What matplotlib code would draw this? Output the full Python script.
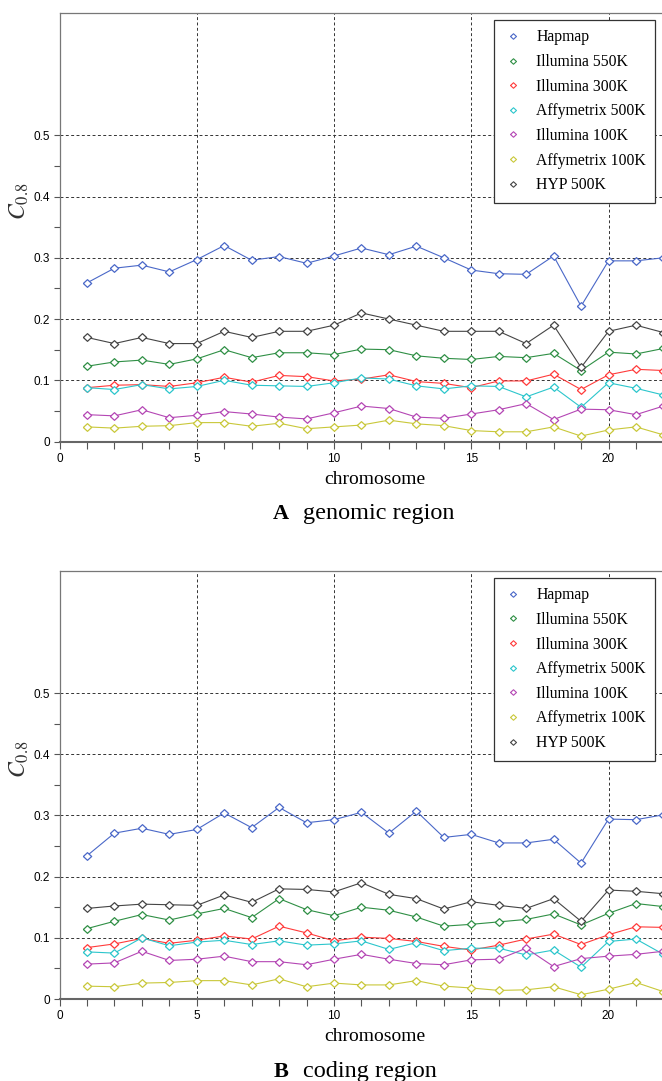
import numpy as np
import matplotlib
matplotlib.use("Agg")
import matplotlib.pyplot as plt
from matplotlib.lines import Line2D
from matplotlib.ticker import MultipleLocator

plt.rcParams['mathtext.fontset'] = 'stix'

chromosomes = list(range(1, 23))
series_names = ["Hapmap", "Illumina 550K", "Illumina 300K", "Affymetrix 500K",
                "Illumina 100K", "Affymetrix 100K", "HYP 500K"]
colors = ["#4a68c8", "#2f8f45", "#ff3b3b", "#2cc6cc", "#b446b4", "#c9c83a", "#454545"]

# panel A: genomic region
genomic_hapmap = [0.259, 0.283, 0.288, 0.277, 0.297, 0.320, 0.296, 0.302, 0.291, 0.303, 0.316,
                  0.305, 0.319, 0.300, 0.280, 0.274, 0.273, 0.303, 0.221, 0.295, 0.295, 0.300]
genomic_ill550 = [0.123, 0.130, 0.133, 0.126, 0.135, 0.150, 0.137, 0.145, 0.145, 0.142, 0.151,
                  0.150, 0.140, 0.136, 0.134, 0.139, 0.137, 0.144, 0.116, 0.146, 0.143, 0.152]
genomic_ill300 = [0.088, 0.092, 0.093, 0.090, 0.096, 0.105, 0.097, 0.108, 0.106, 0.099, 0.102,
                  0.109, 0.098, 0.095, 0.088, 0.099, 0.099, 0.110, 0.085, 0.109, 0.118, 0.116]
genomic_aff500 = [0.088, 0.085, 0.093, 0.086, 0.090, 0.100, 0.092, 0.091, 0.090, 0.096, 0.104,
                  0.102, 0.091, 0.086, 0.091, 0.090, 0.073, 0.089, 0.056, 0.096, 0.087, 0.076]
genomic_ill100 = [0.044, 0.042, 0.052, 0.039, 0.043, 0.049, 0.045, 0.040, 0.037, 0.047, 0.058,
                  0.054, 0.040, 0.038, 0.045, 0.052, 0.062, 0.036, 0.053, 0.052, 0.044, 0.058]
genomic_aff100 = [0.024, 0.022, 0.025, 0.026, 0.031, 0.031, 0.025, 0.030, 0.021, 0.024, 0.027,
                  0.035, 0.029, 0.026, 0.018, 0.016, 0.016, 0.024, 0.009, 0.019, 0.024, 0.011]
genomic_hyp500 = [0.170, 0.160, 0.170, 0.160, 0.160, 0.180, 0.170, 0.180, 0.180, 0.190, 0.210,
                  0.200, 0.190, 0.180, 0.180, 0.180, 0.160, 0.190, 0.121, 0.180, 0.190, 0.178]

# panel B: coding region
coding_hapmap = [0.234, 0.271, 0.279, 0.269, 0.277, 0.304, 0.280, 0.313, 0.288, 0.293, 0.305,
                 0.271, 0.307, 0.264, 0.269, 0.255, 0.255, 0.261, 0.222, 0.294, 0.293, 0.301]
coding_ill550 = [0.115, 0.127, 0.138, 0.129, 0.139, 0.148, 0.133, 0.164, 0.146, 0.136, 0.150,
                 0.145, 0.134, 0.119, 0.122, 0.126, 0.130, 0.139, 0.121, 0.140, 0.156, 0.151]
coding_ill300 = [0.084, 0.090, 0.099, 0.091, 0.096, 0.103, 0.098, 0.119, 0.108, 0.095, 0.101,
                 0.099, 0.094, 0.086, 0.080, 0.088, 0.098, 0.106, 0.089, 0.105, 0.118, 0.117]
coding_aff500 = [0.077, 0.075, 0.100, 0.087, 0.093, 0.096, 0.089, 0.095, 0.088, 0.090, 0.095,
                 0.081, 0.092, 0.079, 0.083, 0.083, 0.072, 0.080, 0.052, 0.094, 0.098, 0.073]
coding_ill100 = [0.057, 0.059, 0.078, 0.063, 0.065, 0.070, 0.061, 0.061, 0.056, 0.065, 0.073,
                 0.065, 0.058, 0.056, 0.064, 0.065, 0.083, 0.053, 0.066, 0.070, 0.073, 0.078]
coding_aff100 = [0.021, 0.020, 0.026, 0.027, 0.030, 0.030, 0.023, 0.033, 0.020, 0.026, 0.023,
                 0.023, 0.030, 0.021, 0.018, 0.014, 0.015, 0.020, 0.007, 0.016, 0.027, 0.012]
coding_hyp500 = [0.148, 0.152, 0.155, 0.154, 0.153, 0.170, 0.158, 0.180, 0.179, 0.175, 0.190,
                 0.171, 0.164, 0.147, 0.159, 0.153, 0.148, 0.164, 0.127, 0.178, 0.176, 0.172]

genomic = [genomic_hapmap, genomic_ill550, genomic_ill300, genomic_aff500,
           genomic_ill100, genomic_aff100, genomic_hyp500]
coding = [coding_hapmap, coding_ill550, coding_ill300, coding_aff500,
          coding_ill100, coding_aff100, coding_hyp500]

diamond = [(-1, 0), (0, 0.92), (1, 0), (0, -0.92), (-1, 0)]
serif = "Liberation Serif"
sans = "Liberation Sans"

fig = plt.figure(figsize=(6.62, 10.81), dpi=100)
W, H = 662.0, 1081.0


def draw_panel(rect, data, letter, title, title_y):
    ax = fig.add_axes(rect)
    for vals, name, c in zip(data, series_names, colors):
        ax.plot(chromosomes, vals, color=c, lw=0.8, marker=diamond, ms=6,
                mfc="white", mec=c, mew=0.9, label=name)
    ax.set_xlim(0, 23)
    ax.set_ylim(0, 0.7)
    ax.set_xticks([0, 5, 10, 15, 20])
    ax.xaxis.set_minor_locator(MultipleLocator(1))
    ax.set_yticks([0, 0.1, 0.2, 0.3, 0.4, 0.5])
    ax.set_yticklabels(["0", "0.1", "0.2", "0.3", "0.4", "0.5"])
    ax.set_yticks(np.arange(0.05, 0.5, 0.1), minor=True)
    ax.grid(True, which="major", color="#333333", linestyle=(0, (3, 2.5)), lw=0.7)
    ax.tick_params(which="both", direction="out", color="#555555", width=0.8,
                   labelsize=8.5, pad=3)
    ax.tick_params(axis="x", which="both", length=5)
    ax.tick_params(axis="y", which="both", length=4)
    for lbl in ax.get_xticklabels() + ax.get_yticklabels():
        lbl.set_fontfamily(sans)
    for side in ["left", "top", "right"]:
        ax.spines[side].set_color("#777777")
        ax.spines[side].set_linewidth(0.9)
    ax.spines["bottom"].set_color("#666666")
    ax.spines["bottom"].set_linewidth(1.5)

    ax.set_xlabel("chromosome", fontfamily=serif, fontsize=14)
    ax.xaxis.label.set_va("center")
    ax.xaxis.set_label_coords(0.5, -0.088)
    ax.set_ylabel(r"$C_{0.8}$", fontsize=17, color="#333333")
    ax.yaxis.label.set_va("center")
    ax.yaxis.set_label_coords(-0.064, 0.56)

    handles = [Line2D([], [], linestyle="none", marker=diamond, ms=4.3, mfc="white",
                      mec=c, mew=0.8) for c in colors]
    leg = ax.legend(handles, series_names, loc="upper right",
                    bbox_to_anchor=(0.944, 0.983), borderaxespad=0,
                    prop={"family": serif, "size": 11.3}, frameon=True,
                    fancybox=False, framealpha=1, edgecolor="#333333",
                    handlelength=1.2, handletextpad=0.9, labelspacing=0.55,
                    borderpad=0.6)
    leg.get_frame().set_linewidth(0.9)

    fig.text(289 / W, 1 - title_y / H, letter, ha="right", va="baseline",
             fontfamily=serif, fontweight="bold", fontsize=16)
    fig.text(303 / W, 1 - title_y / H, title, ha="left", va="baseline",
             fontfamily=serif, fontsize=17.5)
    return ax


left = 59.5 / W
width = 23 * 27.45 / W
draw_panel([left, 1 - 441.6 / H, width, 428.9 / H], genomic, "A", "genomic region", 519)
draw_panel([left, 1 - 999.0 / H, width, 428.4 / H], coding, "B", "coding region", 1077)

fig.savefig("out.png", dpi=100)
